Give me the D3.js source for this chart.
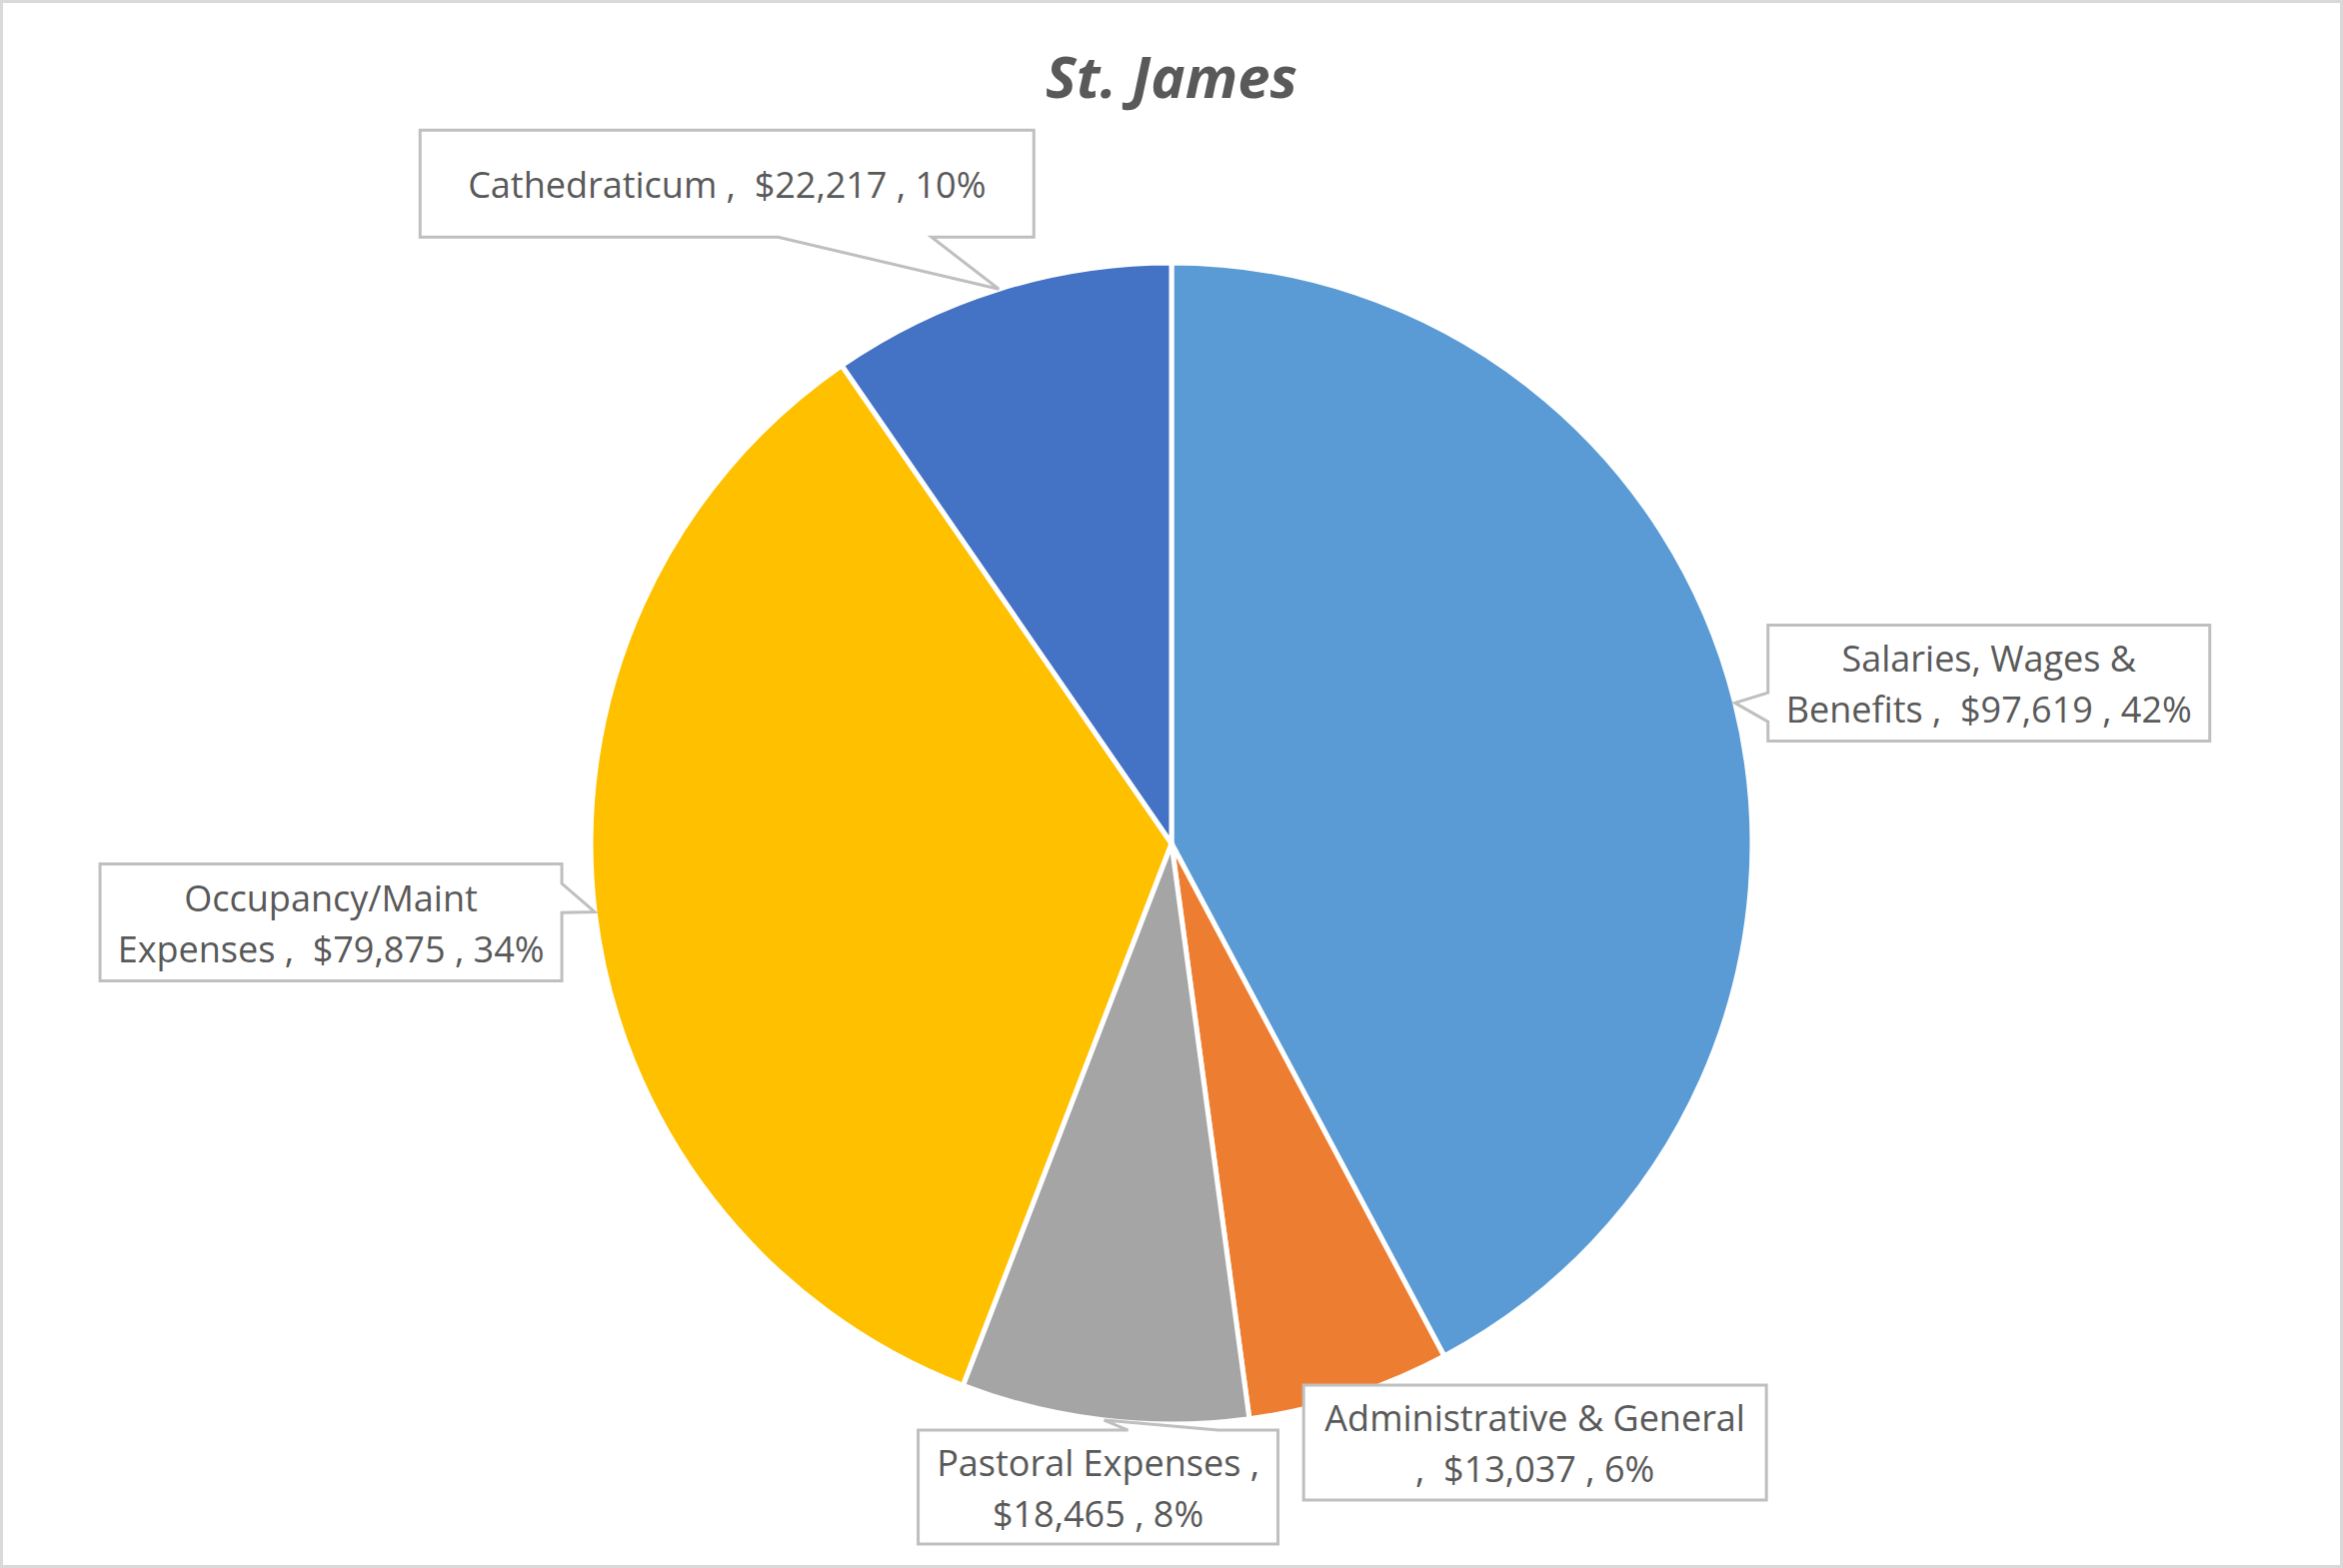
<!DOCTYPE html>
<html>
<head>
<meta charset="utf-8">
<script src="https://cdn.jsdelivr.net/npm/d3@7"></script>
<style>
  body { margin: 0; background: #fff; }
  svg { display: block; }
  text { font-family: "Open Sans", sans-serif; fill: #595959; white-space: pre; }
</style>
</head>
<body>
<div id="chart"></div>
<script>
var title = "St. James";
var categories = ["Salaries, Wages & Benefits", "Administrative & General", "Pastoral Expenses", "Occupancy/Maint Expenses", "Cathedraticum"];
var amounts = [97619, 13037, 18465, 79875, 22217];
var colours = ["#5B9BD5", "#ED7D31", "#A5A5A5", "#FFC000", "#4472C4"];

// callout boxes, placed relative to where each slice's mid angle meets the rim
// words = how many words go on the first line
var callouts = [
  {dx: 33,   dy: -78,  w: 442, h: 116, words: 3},
  {dx: -46,  dy: -11,  w: 463, h: 115, words: 3},
  {dx: -186, dy: 10,   w: 360, h: 114, words: 3},
  {dx: -495, dy: -48,  w: 462, h: 117, words: 1},
  {dx: -579, dy: -159, w: 614, h: 107, words: 99}
];

var width = 2344, height = 1569;
var cx = 1172, cy = 844, radius = 581;
var fontSize = 36, lineHeight = 51;

var svg = d3.select("#chart").append("svg")
    .attr("width", width)
    .attr("height", height);

// chart area border
svg.append("rect")
    .attr("x", 1.5).attr("y", 1.5)
    .attr("width", width - 3).attr("height", height - 3)
    .attr("fill", "#fff")
    .attr("stroke", "#D9D9D9")
    .attr("stroke-width", 3);

svg.append("text")
    .attr("x", 1172).attr("y", 98)
    .attr("text-anchor", "middle")
    .style("font-size", "58px")
    .style("font-weight", 700)
    .style("font-style", "italic")
    .text(title);

// percentages rounded so they add up to 100, like Excel does
function roundedPercents(vals) {
  var total = d3.sum(vals);
  var raw = vals.map(function(v) { return v / total * 100; });
  var out = raw.map(Math.floor);
  var left = 100 - d3.sum(out);
  var order = d3.range(vals.length).sort(function(a, b) {
    return (raw[b] - out[b]) - (raw[a] - out[a]);
  });
  for (var i = 0; i < left; i++) out[order[i]] += 1;
  return out;
}
var percents = roundedPercents(amounts);
var money = d3.format("$,.0f");

var data = categories.map(function(c, i) {
  return {name: c, value: amounts[i], colour: colours[i], pct: percents[i], box: callouts[i]};
});

var pie = d3.pie().sort(null).value(function(d) { return d.value; });
var arc = d3.arc().innerRadius(0).outerRadius(radius);
var rim = d3.arc().innerRadius(radius).outerRadius(radius);

var arcs = pie(data);

var g = svg.append("g").attr("transform", "translate(" + cx + "," + cy + ")");

g.selectAll("path.slice")
    .data(arcs)
    .enter().append("path")
    .attr("class", "slice")
    .attr("d", arc)
    .attr("fill", function(d) { return d.data.colour; })
    .attr("stroke", "#fff")
    .attr("stroke-width", 5)
    .attr("stroke-linejoin", "round");

// box with a wedge pointing to (tx, ty), same rules as Office's wedgeRectCallout
function calloutPath(x, y, w, h, tx, ty) {
  var p = d3.path();
  var inside = tx >= x && tx <= x + w && ty >= y && ty <= y + h;
  var dx = tx - (x + w / 2), dy = ty - (y + h / 2);
  var vertical = Math.abs(dy) > Math.abs(dx * h / w);
  var x1 = x + w * (dx > 0 ? 7 : 2) / 12, x2 = x + w * (dx > 0 ? 10 : 5) / 12;
  var y1 = y + h * (dy > 0 ? 7 : 2) / 12, y2 = y + h * (dy > 0 ? 10 : 5) / 12;
  p.moveTo(x, y);
  if (!inside && vertical && dy < 0) { p.lineTo(x1, y); p.lineTo(tx, ty); p.lineTo(x2, y); }
  p.lineTo(x + w, y);
  if (!inside && !vertical && dx > 0) { p.lineTo(x + w, y1); p.lineTo(tx, ty); p.lineTo(x + w, y2); }
  p.lineTo(x + w, y + h);
  if (!inside && vertical && dy > 0) { p.lineTo(x2, y + h); p.lineTo(tx, ty); p.lineTo(x1, y + h); }
  p.lineTo(x, y + h);
  if (!inside && !vertical && dx < 0) { p.lineTo(x, y2); p.lineTo(tx, ty); p.lineTo(x, y1); }
  p.closePath();
  return p.toString();
}

var labels = g.selectAll("g.callout")
    .data(arcs)
    .enter().append("g")
    .attr("class", "callout");

labels.each(function(d) {
  var sel = d3.select(this);
  var tip = rim.centroid(d);
  var b = d.data.box;
  var bx = tip[0] + b.dx, by = tip[1] + b.dy;

  sel.append("path")
      .attr("d", calloutPath(bx, by, b.w, b.h, tip[0], tip[1]))
      .attr("fill", "#fff")
      .attr("stroke", "#BFBFBF")
      .attr("stroke-width", 3);

  var full = d.data.name + " ,  " + money(d.data.value) + " , " + d.data.pct + "%";
  var words = full.split(" ");
  var lines = [words.slice(0, b.words).join(" "), words.slice(b.words).join(" ").trim()]
      .filter(function(l) { return l.length; });

  var t = sel.append("text")
      .attr("text-anchor", "middle")
      .style("font-size", fontSize + "px");
  lines.forEach(function(l, i) {
    t.append("tspan")
        .attr("x", bx + b.w / 2)
        .attr("y", by + b.h / 2 + (i - (lines.length - 1) / 2) * lineHeight + 14)
        .text(l);
  });
});
</script>
</body>
</html>
